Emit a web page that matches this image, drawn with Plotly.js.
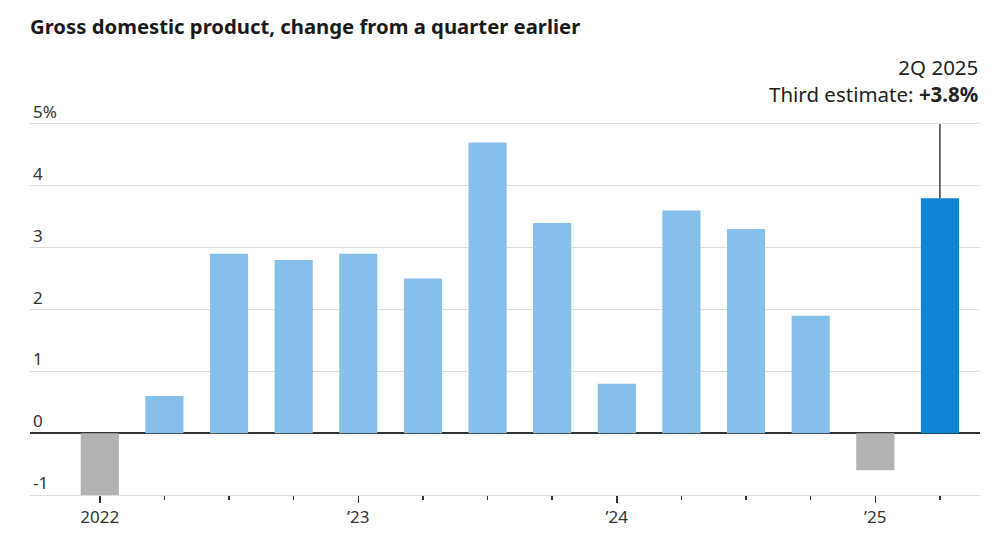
<!DOCTYPE html>
<html><head><meta charset="utf-8">
<script src="https://cdn.plot.ly/plotly-3.0.1.min.js"></script>
<style>html,body{margin:0;padding:0;background:#fff}#chart{width:1000px;height:545px}</style>
</head><body><div id="chart"></div>
<script>
const quarters = ["2022Q1","2022Q2","2022Q3","2022Q4","2023Q1","2023Q2","2023Q3","2023Q4","2024Q1","2024Q2","2024Q3","2024Q4","2025Q1","2025Q2"];
const gdpChange = [-1.0, 0.6, 2.9, 2.8, 2.9, 2.5, 4.7, 3.4, 0.8, 3.6, 3.3, 1.9, -0.6, 3.8];
const yTickVals = [-1, 0, 1, 2, 3, 4, 5];
const yTickText = ["-1", "0", "1", "2", "3", "4", "5%"];
const xLabelIdx = [0, 4, 8, 12];
const xLabelText = ["2022", "\u201923", "\u201924", "\u201925"];
const latestLabel = "2Q 2025";
const latestNote = "Third estimate: ";

const idx = quarters.map((q, i) => i);
const last = gdpChange.length - 1;
const colors = gdpChange.map((v, i) => i === last ? "#0E85D4" : (v < 0 ? "#B2B2B2" : "#86BFEA"));
const yMax = Math.max(...yTickVals);

const bars = {
  type: "bar", x: idx, y: gdpChange, marker: {color: colors, line: {width: 0}},
  width: 0.59, hoverinfo: "skip", customdata: quarters
};
const leader = {
  type: "scatter", mode: "lines", x: [last, last], y: [gdpChange[last], yMax],
  line: {color: "#222", width: 1.3}, hoverinfo: "skip"
};

const FONT = "Noto Sans, Open Sans, sans-serif";
const layout = {
  width: 1000, height: 545,
  margin: {l: 30, r: 20, t: 93, b: 50},
  paper_bgcolor: "#fff", plot_bgcolor: "#fff",
  showlegend: false,
  font: {family: FONT, color: "#333", size: 17},
  title: {text: "<b>Gross domestic product, change from a quarter earlier</b>",
    x: 0.03, xanchor: "left", xref: "container", y: 0.95, yanchor: "middle",
    font: {family: FONT, size: 20.3, color: "#1a1a1a"}},
  xaxis: {
    range: [-1.08, 13.62], fixedrange: true,
    tickmode: "array", tickvals: xLabelIdx, ticktext: xLabelText,
    ticks: "outside", ticklen: 7, tickwidth: 1.5, tickcolor: "#333",
    minor: {tickmode: "array", tickvals: idx, ticks: "outside", ticklen: 4, tickwidth: 1.5, tickcolor: "#333", showgrid: false},
    showgrid: false, zeroline: false,
    showline: true, linecolor: "#DDDDDD", linewidth: 1,
    tickfont: {family: FONT, size: 17, color: "#333"}
  },
  yaxis: {
    range: [-1, 5.5], fixedrange: true,
    tickmode: "array", tickvals: yTickVals, ticktext: yTickText,
    ticklabelposition: "inside top", ticks: "",
    showgrid: true, gridcolor: "#DDDDDD", gridwidth: 1,
    zeroline: true, zerolinecolor: "#333", zerolinewidth: 1.5,
    showline: false,
    tickfont: {family: FONT, size: 17, color: "#333"}
  },
  annotations: [{
    xref: "paper", yref: "y", x: 1, y: 5.22, xanchor: "right", yanchor: "bottom",
    align: "right", showarrow: false,
    text: latestLabel + "<br>" + latestNote + "<b>+" + gdpChange[last].toFixed(1) + "%</b>",
    font: {family: FONT, size: 20.5, color: "#222"}
  }]
};
Plotly.newPlot("chart", [bars, leader], layout, {displayModeBar: false, staticPlot: true});
</script></body></html>
